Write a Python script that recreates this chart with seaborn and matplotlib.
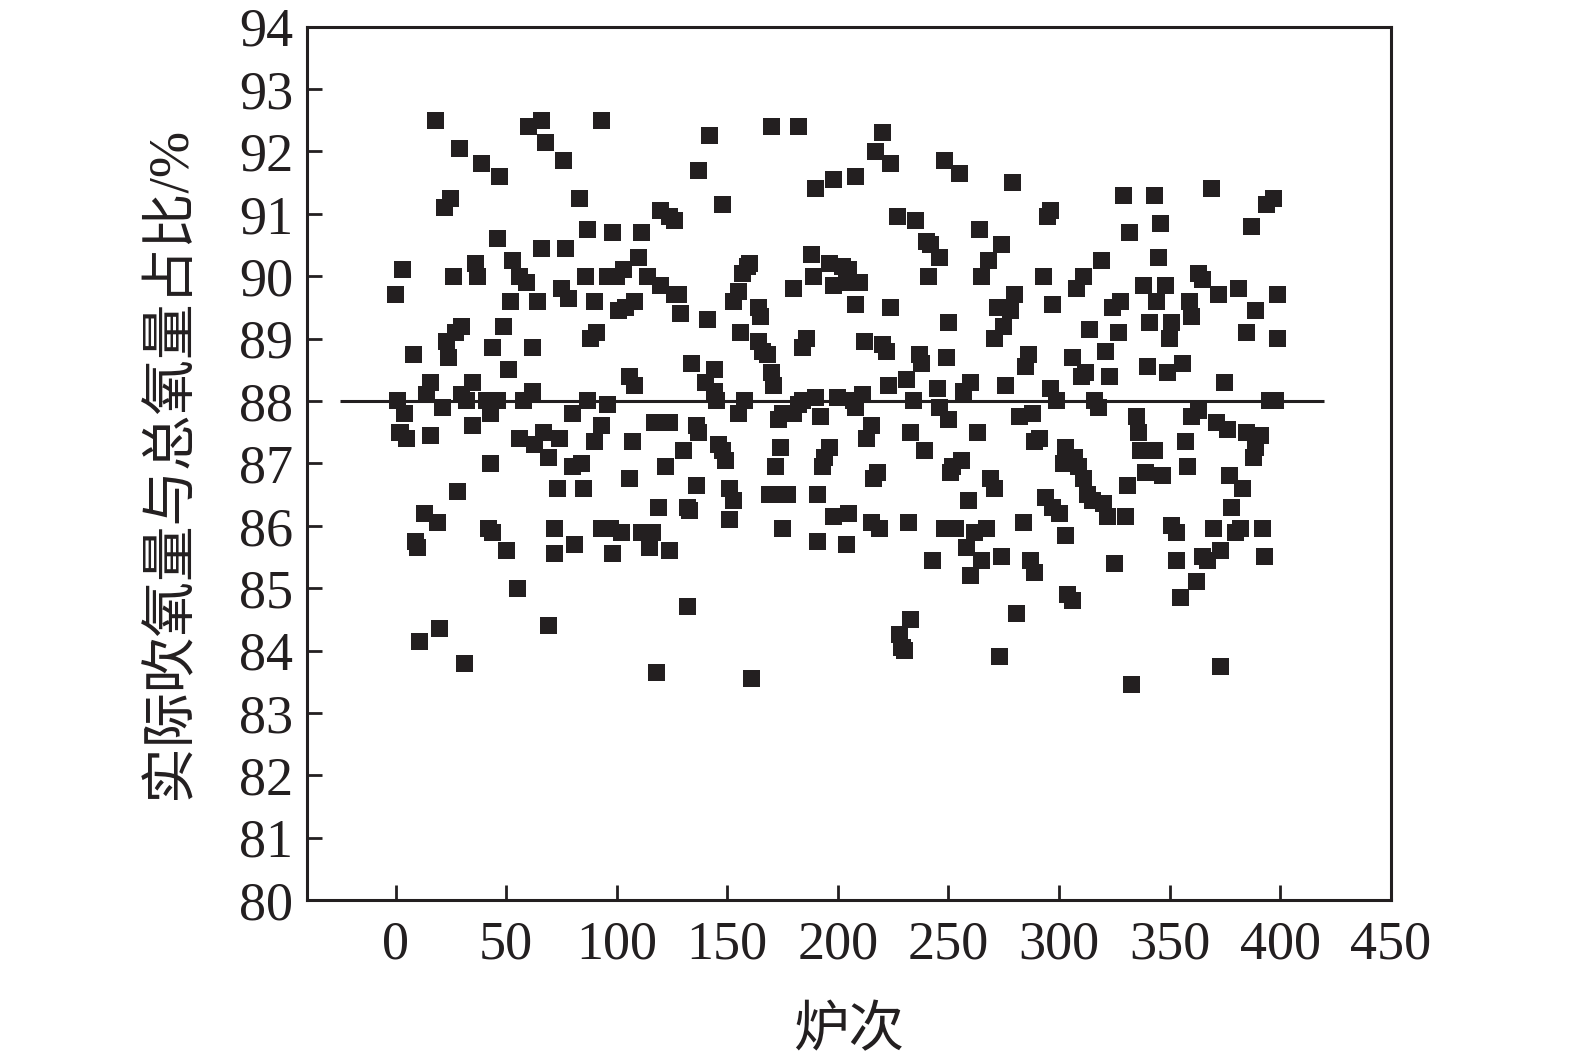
import numpy as np
import pandas as pd
import matplotlib
matplotlib.use('Agg')
import matplotlib.pyplot as plt
import seaborn as sns

heat = [0, 3, 1, 2, 4, 5, 8, 9, 10, 11, 13, 14, 16, 16, 18, 19, 20, 21, 22, 25,
        23, 24, 26, 27, 30, 28, 29, 31, 30, 32, 35, 35, 36, 37, 39, 41, 43, 43, 42, 44,
        44, 46, 47, 46, 49, 50,
        53, 56, 52, 51, 59, 55, 56, 58, 60, 66, 62, 62, 63, 64, 66, 68, 67, 69, 69, 72,
        72, 73, 74, 76, 77, 75, 78, 80, 80, 81, 83, 84, 85, 86, 87, 87, 88, 90, 90, 91,
        93, 93, 93, 96, 96, 98, 98, 100, 97,
        103, 101, 104, 108, 102, 106, 108, 106, 107, 110, 111, 111, 114, 115, 116, 117, 118, 119, 120, 120,
        124, 126, 122, 124, 124, 126, 128, 129, 130, 132, 133, 132, 134, 136, 136, 137, 137, 140, 141, 142,
        144, 145, 144, 146, 148, 149, 148,
        151, 151, 153, 153, 155, 157, 159, 160, 156, 155, 158, 161, 164, 165, 164, 166, 168, 170, 171, 169,
        170, 172, 174, 173, 175, 175, 177, 180, 180, 182, 182, 184, 184, 186, 188, 190, 189, 192, 190, 191,
        191, 193, 194, 196, 196, 198, 198, 198, 200,
        202, 205, 204, 204, 205, 207, 208, 208, 208, 210, 211, 212, 213, 215, 215, 216, 218, 217, 220, 224,
        219, 220, 222, 223, 224, 227, 228, 229, 230, 231, 232, 233, 233, 234, 235, 237, 238, 239, 240, 242,
        246, 241, 243, 245, 246, 248, 248, 249,
        250, 250, 251, 252, 253, 255, 256, 257, 258, 259, 260, 260, 262, 263, 264, 265, 265, 267, 268, 269,
        271, 271, 272, 273, 274, 274, 275, 276, 278, 279, 280, 281, 282, 284, 285, 286, 287, 289, 288, 289,
        291, 293, 294, 297, 295, 296, 296, 297, 299, 300,
        302, 303, 303, 304, 306, 306, 307, 309, 308, 310, 312, 311, 311, 313, 315, 314, 316, 318, 319, 320,
        321, 322, 323, 324, 325, 327, 328, 329, 330, 331, 332, 333, 335, 336, 337, 338, 339, 340, 341, 343,
        343, 344, 345, 346, 347, 348, 349, 350, 351,
        351, 353, 353, 355, 356, 357, 358, 359, 360, 360, 363, 362, 363, 365, 365, 367, 369, 370, 371, 372,
        373, 373, 375, 376, 377, 378, 380, 382, 381, 383, 385, 385, 387, 388, 389, 389, 391, 392, 393, 394,
        397, 395, 398, 399, 399]

ratio = [89.7, 90.1, 88.0, 87.5, 87.8, 87.4, 88.75, 85.75, 85.65, 84.15, 86.2, 88.1, 88.3, 87.45, 92.5, 86.05, 84.35, 87.9, 91.1, 91.25,
         88.95, 88.7, 90.0, 89.1, 89.2, 86.55, 92.05, 83.8, 88.1, 88.0, 88.3, 87.6, 90.2, 90.0, 91.8, 88.0, 87.8, 87.0, 85.95, 85.9,
         88.85, 90.6, 91.6, 88.0, 89.2, 85.6,
         90.25, 90.0, 89.6, 88.5, 89.9, 85.0, 87.4, 88.0, 92.4, 92.5, 88.85, 88.15, 87.3, 89.6, 90.45, 92.15, 87.5, 87.1, 84.4, 85.95,
         85.55, 86.6, 87.4, 91.85, 90.45, 89.8, 89.65, 87.8, 86.95, 85.7, 91.25, 87.0, 86.6, 90.0, 90.75, 88.0, 89.0, 89.6, 87.35, 89.1,
         92.5, 87.6, 85.95, 90.0, 87.95, 85.55, 90.7, 90.0, 85.95,
         90.1, 89.45, 89.5, 89.6, 85.9, 88.4, 88.25, 86.75, 87.35, 90.3, 90.7, 85.9, 90.0, 85.65, 85.9, 87.65, 83.65, 86.3, 89.85, 91.05,
         90.95, 90.9, 86.95, 87.65, 85.6, 89.7, 89.7, 89.4, 87.2, 86.3, 86.25, 84.7, 88.6, 86.65, 87.6, 87.5, 91.7, 88.3, 89.3, 92.25,
         88.5, 88.0, 88.15, 87.3, 87.2, 87.05, 91.15,
         86.1, 86.6, 86.4, 89.6, 89.75, 90.05, 90.15, 90.2, 89.1, 87.8, 88.0, 83.55, 89.5, 89.35, 88.95, 88.8, 88.75, 88.45, 88.25, 86.5,
         92.4, 86.95, 87.25, 87.7, 87.8, 85.95, 86.5, 89.8, 87.8, 87.95, 92.4, 88.0, 88.85, 89.0, 90.35, 91.4, 90.0, 87.75, 88.05, 86.5,
         85.75, 86.95, 87.1, 87.25, 90.2, 91.55, 89.85, 86.15, 88.05,
         90.15, 90.1, 89.9, 85.7, 86.2, 88.0, 87.9, 91.6, 89.55, 89.9, 88.1, 88.95, 87.4, 87.6, 86.05, 86.75, 86.85, 92.0, 92.3, 91.8,
         85.95, 88.9, 88.8, 88.25, 89.5, 90.95, 84.25, 84.05, 84.0, 88.35, 86.05, 84.5, 87.5, 88.0, 90.9, 88.75, 88.6, 87.2, 90.55, 90.5,
         90.3, 90.0, 85.45, 88.2, 87.9, 85.95, 91.85, 88.7,
         87.7, 89.25, 86.85, 86.95, 85.95, 91.65, 87.05, 88.15, 85.65, 86.4, 88.3, 85.2, 85.9, 87.5, 90.75, 90.0, 85.45, 85.95, 90.25, 86.75,
         86.6, 89.0, 89.5, 83.9, 85.5, 90.5, 89.2, 88.25, 89.45, 91.5, 89.7, 84.6, 87.75, 86.05, 88.55, 88.75, 85.45, 85.25, 87.8, 87.35,
         87.4, 90.0, 86.45, 86.3, 90.95, 91.05, 88.2, 89.55, 88.0, 86.2,
         87.0, 87.25, 85.85, 84.9, 84.8, 88.7, 87.1, 86.95, 89.8, 88.4, 88.45, 90.0, 86.75, 86.5, 86.4, 89.15, 88.0, 87.9, 90.25, 86.35,
         88.8, 86.15, 88.4, 89.5, 85.4, 89.1, 89.6, 91.3, 86.15, 86.65, 90.7, 83.45, 87.75, 87.5, 87.2, 89.85, 86.85, 88.55, 89.25, 91.3,
         87.2, 89.6, 90.3, 90.85, 86.8, 89.85, 88.45, 89.0, 89.25,
         86.0, 85.45, 85.9, 84.85, 88.6, 87.35, 86.95, 89.6, 89.35, 87.75, 87.85, 85.1, 90.05, 89.95, 85.5, 85.45, 91.4, 85.95, 87.65, 89.7,
         85.6, 83.75, 88.3, 87.55, 86.8, 86.3, 85.9, 85.95, 89.8, 86.6, 87.5, 89.1, 90.8, 87.1, 87.25, 89.45, 87.45, 85.95, 85.5, 91.15,
         91.25, 88.0, 88.0, 89.7, 89.0]

x_ticks = [0, 50, 100, 150, 200, 250, 300, 350, 400, 450]
y_ticks = list(range(80, 95))
target = 88

df = pd.DataFrame({'heat': heat[:len(ratio)], 'ratio': ratio[:len(heat)]})

sns.set_style('white')
plt.rcParams['font.family'] = ['Liberation Serif', 'Noto Sans CJK SC']

fig = plt.figure(figsize=(15.75, 10.64), dpi=100)
ax = fig.add_axes([0.195, 0.154, 0.688, 0.821])

sns.scatterplot(data=df, x='heat', y='ratio', marker='s', s=150,
                color='#231f20', edgecolor='none', ax=ax)
ax.hlines(target, -25, 420, color='#231f20', linewidth=2.2)

ax.set_xlim(-40, 450)
ax.set_ylim(80, 94)
ax.set_xticks(x_ticks)
ax.set_yticks(y_ticks)
ax.tick_params(bottom=True, left=True, direction='in', length=11, width=2,
               labelsize=39, colors='#231f20')
ax.tick_params(axis='x', pad=14)
ax.tick_params(axis='y', pad=10)
for sp in ax.spines.values():
    sp.set_linewidth(2.2)
    sp.set_color('#231f20')

ax.set_xlabel('炉次', fontsize=40, labelpad=26, color='#231f20')
ax.set_ylabel('实际吹氧量与总氧量占比/%', fontsize=40, labelpad=30, color='#231f20')

fig.savefig('out.png', dpi=100)
